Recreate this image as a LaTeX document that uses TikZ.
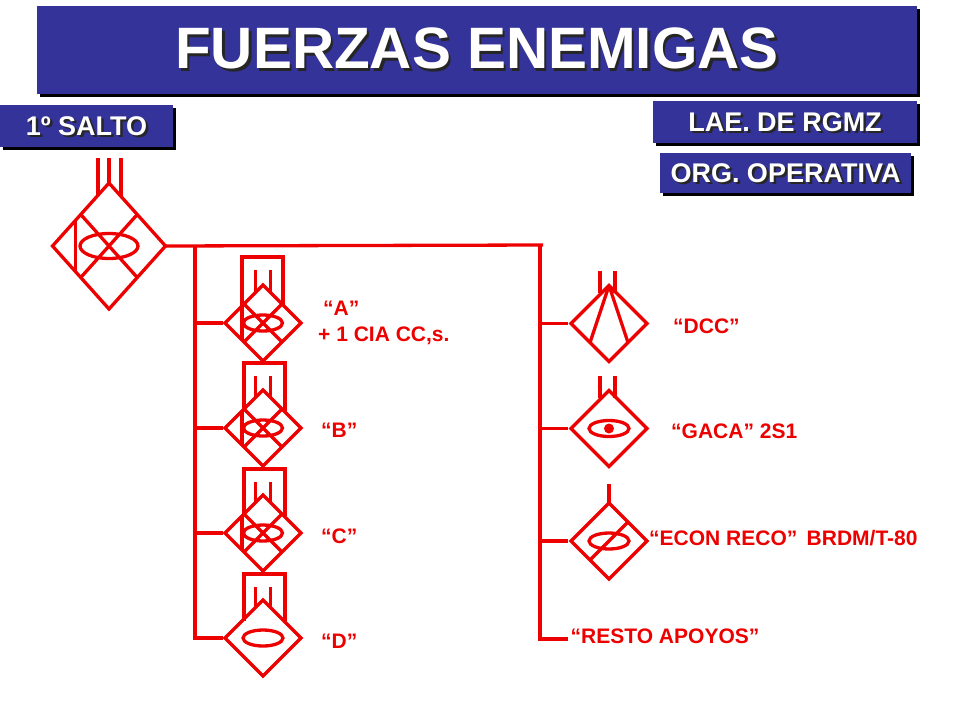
\documentclass[tikz,border=0pt]{standalone}
\usepackage{fontspec}
\setmainfont{Liberation Sans}
\usetikzlibrary{positioning,calc,shapes.geometric,shadows}
\definecolor{rojo}{HTML}{EC0000}
\definecolor{azul}{HTML}{333399}
\newcommand{\sombra}[1]{\leavevmode\rlap{\kern2.5pt\smash{\raisebox{-2.5pt}{\textcolor{black!85}{#1}}}}#1}
\tikzset{
  caja/.style={fill=azul,text=white,font=\bfseries\fontsize{27}{30}\selectfont,inner sep=0pt,
    copy shadow={shadow xshift=3pt,shadow yshift=-3pt,fill=black,draw=none,opacity=1}},
  linea/.style={draw=rojo,line width=3.3pt},
  unidad/.style={diamond,draw=rojo,line width=3.3pt,inner sep=0pt,outer sep=0pt,minimum width=76pt,minimum height=76pt},
  etiq/.style={text=rojo,font=\bfseries\fontsize{21}{24}\selectfont,anchor=west,inner sep=0pt}
}
\begin{document}
\begin{tikzpicture}[x=1pt,y=-1pt]
  \useasboundingbox (0,0) rectangle (960,720);
  % rotulos
  \node[caja,minimum width=880pt,minimum height=88pt,font=\bfseries\fontsize{58.4}{64}\selectfont] (titulo) at (477,50) {\raisebox{3pt}{\sombra{FUERZAS ENEMIGAS}}};
  \node[caja,minimum width=173pt,minimum height=42pt] (salto) at (86.5,126) {\raisebox{-1pt}{\sombra{1º SALTO}}};
  \node[caja,minimum width=264pt,minimum height=42pt] (lae) at (785,122) {\sombra{LAE. DE RGMZ}};
  \node[caja,minimum width=251pt,minimum height=40pt] (org) at (785.5,173) {\raisebox{-1pt}{\sombra{ORG. OPERATIVA}}};
  % unidad superior
  \node[unidad,minimum width=113pt,minimum height=126pt] (rgmz) at (109,246) {};
  \draw[linea] (98,158)--(98,195);
  \draw[linea] (rgmz.north)--++(0,-25);
  \draw[linea] (121,158)--(121,197);
  \draw[linea] ($(rgmz.north)!.5!(rgmz.west)$)--($(rgmz.south)!.5!(rgmz.east)$);
  \draw[linea] ($(rgmz.north)!.5!(rgmz.east)$)--($(rgmz.south)!.5!(rgmz.west)$);
  \draw[linea] ($(rgmz.west)!.41!(rgmz.north)$)--($(rgmz.west)!.41!(rgmz.south)$);
  \draw[linea] (rgmz) ellipse [x radius=29,y radius=12.5];
  % barras
  \coordinate (busI) at (195,245);
  \coordinate (busD) at (540,245);
  \coordinate (finBarra) at (543,245);
  \draw[linea] (rgmz.east)--(finBarra);
  % batallones, izquierda
  \foreach \n/\yc/\xa/\xb/\ytop in {A/323/242/283/257,B/428/244/285/363,C/533/244/285/469,D/638/244/285/574}{
    \node[unidad] (u\n) at (263,\yc) {};
    \draw[linea,shorten >=2pt] (busI) |- (u\n.west);
    \draw[linea,line join=miter] (\xa,\yc-17) -- (\xa,\ytop) -- (\xb,\ytop) -- (\xb,\yc-17);
    \draw[linea] (255.5,\ytop+13)--(255.5,\yc-30);
    \draw[linea] (270.5,\ytop+13)--(270.5,\yc-30);
  }
  \foreach \n in {A,B,C}{
    \draw[linea] ($(u\n.north)!.5!(u\n.west)$)--($(u\n.south)!.5!(u\n.east)$);
    \draw[linea] ($(u\n.north)!.5!(u\n.east)$)--($(u\n.south)!.5!(u\n.west)$);
    \draw[linea] ($(u\n.west)!.45!(u\n.north)$)--($(u\n.west)!.45!(u\n.south)$);
    \draw[linea] (u\n) ellipse [x radius=19.5,y radius=8];
  }
  \draw[linea] (uD) ellipse [x radius=20,y radius=8];
  % apoyos, derecha
  \node[unidad] (dcc) at (609,323.5) {};
  \node[unidad] (gaca) at (609,428.5) {};
  \node[unidad] (reco) at (609,541) {};
  \node[etiq] (resto) at (570.5,636.5) {“RESTO APOYOS”};
  \foreach \n in {dcc,gaca,reco}{
    \draw[linea,shorten >=3pt] (busD) |- (\n.west);
  }
  \draw[linea,shorten >=3pt] (busD) |- (resto.west|-0,639);
  \draw[linea] (600,271)--(600,293);
  \draw[linea] (615,271)--(615,293);
  \draw[linea] (dcc.north)--($(dcc.south)!.5!(dcc.west)$);
  \draw[linea] (dcc.north)--($(dcc.south)!.5!(dcc.east)$);
  \draw[linea] (600,376)--(600,398);
  \draw[linea] (615,376)--(615,398);
  \draw[linea] (gaca) ellipse [x radius=20,y radius=8];
  \fill[rojo] (gaca) circle [radius=5];
  \draw[linea] (reco.north)--++(0,-19);
  \draw[linea] (reco) ellipse [x radius=20,y radius=8];
  \draw[linea] ($(reco.north)!.5!(reco.east)$)--($(reco.south)!.5!(reco.west)$);
  % textos
  \node[etiq] (tA) at (323,308) {“A”};
  \node[etiq] (tA2) at (318,335.5) {+ 1 CIA CC,s.};
  \node[etiq] (tB) at (321,430.5) {“B”};
  \node[etiq] (tC) at (321,536) {“C”};
  \node[etiq] (tD) at (321,641.5) {“D”};
  \node[etiq] (tdcc) at (673,326) {“DCC”};
  \node[etiq] (tgaca) at (671,431.5) {“GACA” 2S1};
  \node[etiq] (treco) at (649,538.5) {“ECON RECO”\, BRDM/T-80};
\end{tikzpicture}
\end{document}
